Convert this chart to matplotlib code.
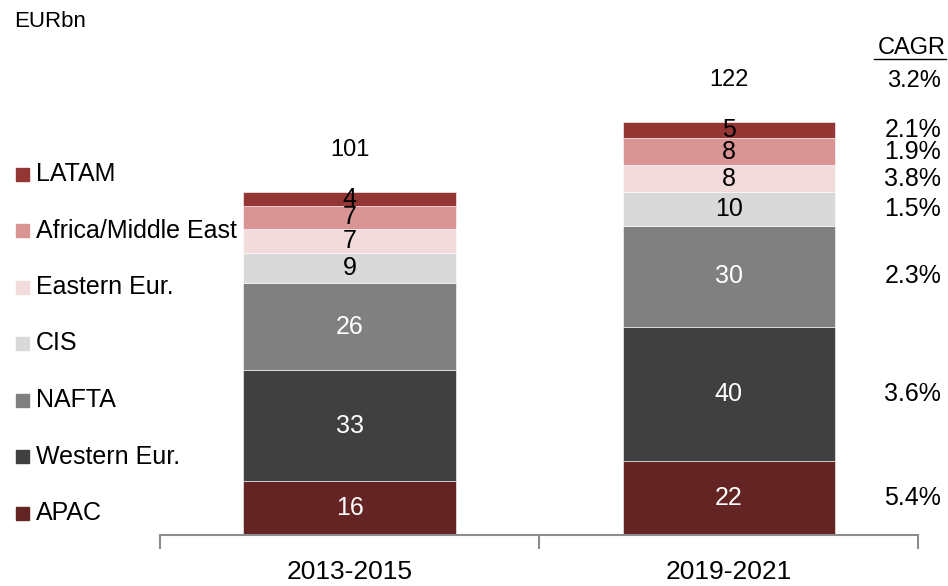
import numpy as np
import matplotlib.pyplot as plt
from matplotlib.lines import Line2D
from matplotlib.patches import Rectangle
import matplotlib.transforms as mtransforms

plt.rcParams['font.family'] = ['Liberation Sans', 'DejaVu Sans']

periods = ["2013-2015", "2019-2021"]
regions = ["APAC", "Western Eur.", "NAFTA", "CIS", "Eastern Eur.",
           "Africa/Middle East", "LATAM"]
vals_2013 = [16, 33, 26, 9, 7, 7, 4]
vals_2019 = [22, 40, 30, 10, 8, 8, 5]
totals = ["101", "122"]
cagr = ["5.4%", "3.6%", "2.3%", "1.5%", "3.8%", "1.9%", "2.1%"]
cagr_total = "3.2%"

colors = ["#632423", "#404040", "#808080", "#d9d9d9", "#f2dcdb",
          "#d99594", "#943634"]
text_colors = ["white", "white", "white", "black", "black", "black", "black"]

fig = plt.figure(figsize=(9.48, 5.86), dpi=100)
ax = fig.add_axes([0.1688, 0.087, 0.80, 0.913])

data = np.array([vals_2013, vals_2019])
x = np.arange(len(periods))
bottom = np.zeros(len(periods))
for i, reg in enumerate(regions):
    ax.bar(x, data[:, i], 0.56, bottom=bottom, color=colors[i],
           edgecolor="white", linewidth=0.4)
    for j in range(len(periods)):
        ax.text(x[j], bottom[j] + data[j, i] / 2, str(data[j, i]),
                ha="center", va="center", fontsize=18,
                color=text_colors[i])
    bottom += data[:, i]

# totals above each stack
for j in range(len(periods)):
    ax.annotate(totals[j], (x[j], bottom[j]), xytext=(0, 31),
                textcoords="offset pixels", ha="center", va="bottom",
                fontsize=17)

# CAGR column next to the second stack
trans = mtransforms.blended_transform_factory(ax.transAxes, ax.transData)
mids = np.cumsum(data[1]) - data[1] / 2
for m, c in zip(mids, cagr):
    ax.text(1.03, m, c, transform=trans, ha="right", va="center", fontsize=18)
ax.annotate(cagr_total, (1.03, bottom[1]), xycoords=trans, xytext=(0, 30),
            textcoords="offset pixels", ha="right", va="bottom",
            fontsize=17)
fig.text(0.9979, 0.918, "CAGR", ha="right", va="center", fontsize=17)
fig.add_artist(Line2D([0.922, 0.998], [0.899, 0.899], color="black",
                      linewidth=1.0, transform=fig.transFigure))

fig.text(0.015, 0.963, "EURbn", ha="left", va="center", fontsize=16)

# legend down the left side, top entry first
for k, i in enumerate(range(len(regions) - 1, -1, -1)):
    yc = 1 - (174 + k * 56.5) / 586
    fig.add_artist(Rectangle((16 / 948, yc - 6.5 / 586), 13 / 948, 13 / 586,
                             color=colors[i], transform=fig.transFigure))
    fig.text(36 / 948, yc, regions[i], ha="left", va="center", fontsize=18)

ax.set_xlim(-0.5, 1.5)
ax.set_ylim(0, 159.2)
ax.set_xticks(x)
ax.set_xticklabels(periods, fontsize=19)
ax.set_xticks([-0.5, 0.5, 1.5], minor=True)
ax.tick_params(axis="x", which="major", length=0, pad=18)
ax.tick_params(axis="x", which="minor", length=10, width=1.5,
               color="#8c8c8c", direction="out")
ax.set_yticks([])
for s in ["top", "left", "right"]:
    ax.spines[s].set_visible(False)
ax.spines["bottom"].set_color("#8c8c8c")
ax.spines["bottom"].set_linewidth(1.5)

fig.savefig("out.png", dpi=100)
